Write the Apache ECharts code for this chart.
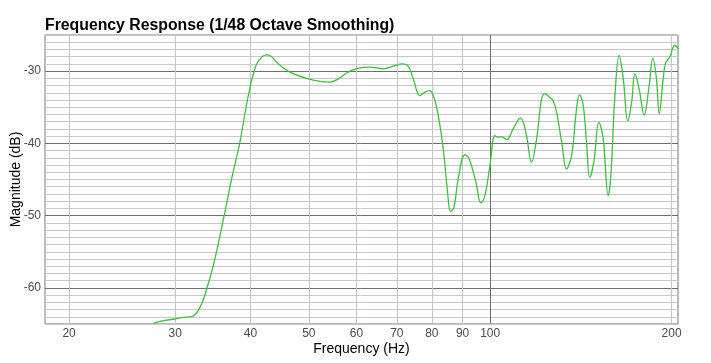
<!DOCTYPE html>
<html>
<head>
<meta charset="utf-8">
<script src="https://cdn.jsdelivr.net/npm/echarts@6/dist/echarts.min.js"></script>
<style>html,body{margin:0;padding:0;background:#fff;}#c{width:711px;height:363px;}</style>
</head>
<body>
<div id="c"></div>
<script>
var freqs = [27.6,28.67,29.97,30.94,31.95,32.99,33.84,34.70,35.60,36.65,37.22,38.42,39.67,40.85,41.75,42.45,43.22,44.49,46.52,49.89,54.20,55.95,58.49,60.76,63.15,66.45,69.03,71.56,73.11,74.53,76.46,77.94,79.24,80.45,81.99,83.57,84.87,85.97,87.07,88.50,90.78,92.29,94.69,96.51,98.0,99.9,101.8,102.9,104.4,106.5,109.2,112.3,114.6,117.1,119.4,121.7,123.2,125.5,127.2,128.9,131.4,133.9,136.5,139.1,140.7,142.7,144.5,146.3,148.6,151.5,154.0,157.0,158.6,161.1,163.7,166.3,169.2,171.7,173.9,176.7,180.1,183.6,186.2,188.8,190.8,193.7,195.5,198.7,202.5,205.3];
var magnitudes = [-64.9,-64.54,-64.31,-64.07,-63.99,-62.69,-60.15,-56.93,-52.77,-47.69,-44.92,-39.83,-33.38,-29.22,-28.06,-27.74,-27.92,-28.99,-30.14,-31.07,-31.52,-31.07,-30.00,-29.54,-29.45,-29.68,-29.31,-28.99,-29.31,-31.07,-33.38,-32.91,-32.69,-33.38,-36.15,-40.76,-46.30,-49.44,-48.84,-44.92,-41.59,-42.15,-45.37,-48.24,-47.23,-43.07,-38.92,-39.14,-39.06,-39.47,-37.99,-36.47,-38.45,-42.60,-39.38,-33.84,-33.14,-33.6,-34.1,-35.68,-39.83,-43.53,-41.69,-35.22,-33.28,-34.76,-39.83,-44.7,-42.60,-37.1,-39.38,-47.23,-44.46,-33.38,-27.84,-31.07,-36.9,-34.30,-30.4,-32.45,-36.1,-31.99,-28.2,-31.07,-35.9,-31.07,-28.9,-28.0,-26.45,-26.9];
var xTickLabels = [20,30,40,50,60,70,80,90,100,200];
var xLightLines = [20,30,40,50,60,70,80,90,200];
var xDarkLines = [100];
var yMajorTicks = [-60,-50,-40,-30];

var data = freqs.map(function(f,i){return [f, magnitudes[i]];});
var chart = echarts.init(document.getElementById('c'));
var font = 'Liberation Sans, Arial, Helvetica, sans-serif';
chart.setOption({
  animation: false,
  title: {
    text: 'Frequency Response (1/48 Octave Smoothing)',
    left: 40, top: 13,
    textStyle: {fontFamily: font, fontWeight: 'bold', fontSize: 15.8, color: '#000'}
  },
  grid: {left: 45, right: 33, top: 35, bottom: 39, outerBoundsMode: 'none', containLabel: false, show: true, borderColor: '#777', borderWidth: 1, backgroundColor: 'transparent'},
  xAxis: [{
    type: 'log', logBase: 10, min: 18.24, max: 205,
    name: 'Frequency (Hz)', nameLocation: 'middle', nameGap: 18, nameMoveOverlap: false,
    nameTextStyle: {fontFamily: font, fontSize: 14, color: '#000'},
    axisLine: {show: false},
    axisTick: {show: false, customValues: xLightLines},
    axisLabel: {customValues: xTickLabels, margin: 4, fontFamily: font, fontSize: 12, color: '#4a4a4a'},
    splitLine: {show: true, lineStyle: {color: '#c4c4c4', width: 1}},
    minorSplitLine: {show: false}
  }, {
    type: 'log', logBase: 10, min: 18.24, max: 205, position: 'bottom',
    axisLine: {show: false},
    axisTick: {show: false, customValues: xDarkLines},
    axisLabel: {show: false},
    splitLine: {show: true, lineStyle: {color: '#6e6e6e', width: 1}}
  }],
  yAxis: [{
    type: 'value', min: -65, max: -25, interval: 1,
    axisLine: {show: false}, axisTick: {show: false}, axisLabel: {show: false},
    splitLine: {show: true, lineStyle: {color: '#c8c8c8', width: 1}}
  }, {
    type: 'value', min: -65, max: -25, position: 'left',
    name: 'Magnitude (dB)', nameLocation: 'middle', nameGap: 22, nameMoveOverlap: false,
    nameTextStyle: {fontFamily: font, fontSize: 14, color: '#000'},
    axisLine: {show: false},
    axisTick: {show: false, customValues: yMajorTicks},
    axisLabel: {customValues: yMajorTicks, margin: 4, fontFamily: font, fontSize: 12, color: '#4a4a4a'},
    splitLine: {show: true, lineStyle: {color: '#6e6e6e', width: 1}}
  }],
  series: [{
    type: 'line', xAxisIndex: 0, yAxisIndex: 0,
    data: data, showSymbol: false, smooth: 0.4, clip: true,
    lineStyle: {color: '#3fbf3f', width: 1.3},
    z: 5
  }]
});
</script>
</body>
</html>
